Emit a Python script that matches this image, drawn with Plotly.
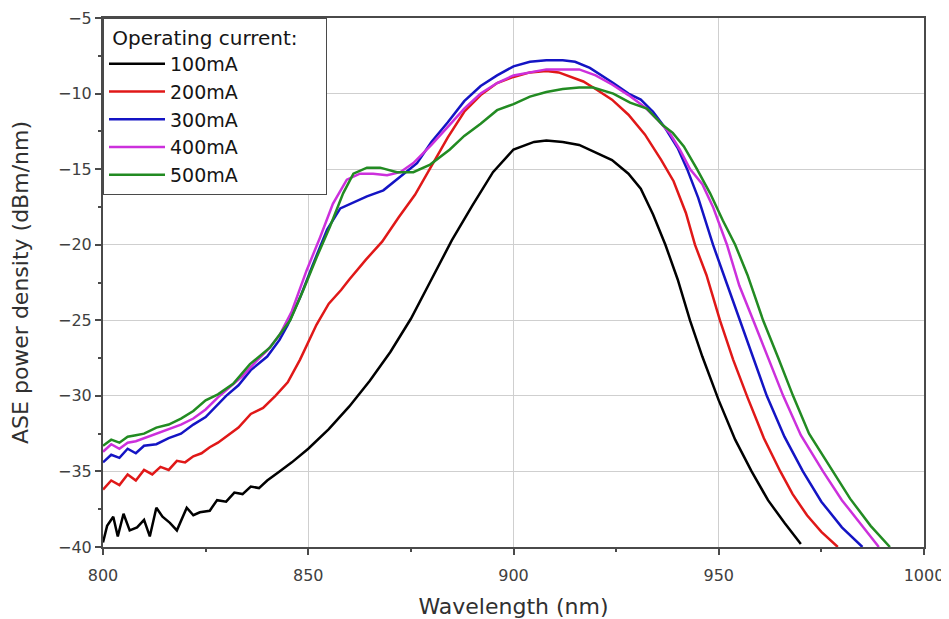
import plotly.graph_objects as go

# ---------------- data ----------------
labels = ["100mA", "200mA", "300mA", "400mA", "500mA"]
colors = ["#000000", "#e01818", "#1414c4", "#cc30dc", "#228b22"]

wl_100 = [800, 801, 802.5, 803.6, 805, 806.5, 808.3, 810, 811.4, 813, 814.5, 816.3, 818,
          820.4, 822, 823.6, 826, 827.8, 830, 832, 834, 836, 838, 840, 843, 846, 850, 855,
          860, 865, 870, 875, 880, 885, 890, 895, 900, 905, 908, 912, 916, 920, 924, 928,
          931, 934, 937, 940, 943, 946, 950, 954, 958, 962, 966, 970]
p_100 = [-39.7, -38.6, -38.0, -39.3, -37.8, -38.9, -38.7, -38.2, -39.3, -37.4, -38.0, -38.4,
         -38.9, -37.4, -37.9, -37.7, -37.6, -36.9, -37.0, -36.4, -36.5, -36.0, -36.1, -35.6,
         -35.0, -34.4, -33.5, -32.2, -30.7, -29.0, -27.1, -24.9, -22.3, -19.7, -17.4, -15.2,
         -13.7, -13.2, -13.1, -13.2, -13.4, -13.9, -14.4, -15.3, -16.3, -18.0, -20.0, -22.3,
         -25.0, -27.4, -30.3, -32.9, -35.0, -36.9, -38.4, -39.8]

wl_200 = [800, 802, 804, 806, 808, 810, 812, 814, 816, 818, 820, 822, 824, 826, 828, 830,
          833, 836, 839, 842, 845, 848, 850, 852, 855, 858, 860, 864, 868, 872, 876, 880,
          884, 888, 892, 896, 900, 904, 908, 911, 914, 917, 920, 924, 928, 932, 936, 939,
          942, 944.2, 947, 950.3, 953.5, 957, 961, 965, 968, 971.5, 975, 979]
p_200 = [-36.2, -35.6, -35.9, -35.2, -35.6, -34.9, -35.2, -34.7, -34.9, -34.3, -34.4, -34.0,
         -33.8, -33.4, -33.1, -32.7, -32.1, -31.2, -30.8, -30.0, -29.1, -27.6, -26.5, -25.3,
         -23.9, -23.0, -22.3, -21.0, -19.8, -18.2, -16.7, -14.8, -12.9, -11.2, -10.1, -9.3,
         -8.9, -8.6, -8.5, -8.6, -8.9, -9.2, -9.7, -10.4, -11.4, -12.7, -14.4, -15.8, -17.9,
         -20.0, -22.0, -25.0, -27.6, -30.1, -32.8, -35.0, -36.5, -37.9, -39.0, -40.0]

wl_300 = [800, 802, 804, 806, 808, 810, 813, 816, 819, 822, 825, 828, 830, 833, 836, 840,
          843, 845, 848, 851, 854.6, 857.8, 861, 864.3, 868.3, 872.4, 876.5, 880, 884, 888,
          892, 896, 900, 904, 908, 912, 915, 918.6, 921, 924.3, 928, 931, 934, 937, 940,
          942.3, 945, 948.6, 952, 955.2, 958.5, 961.7, 966, 970.5, 975, 980, 985]
p_300 = [-34.4, -33.9, -34.1, -33.5, -33.8, -33.3, -33.2, -32.8, -32.5, -31.9, -31.4, -30.6,
         -30.0, -29.3, -28.3, -27.4, -26.3, -25.3, -23.5, -21.4, -19.0, -17.6, -17.2, -16.8,
         -16.4, -15.5, -14.6, -13.2, -11.9, -10.5, -9.5, -8.8, -8.2, -7.9, -7.8, -7.8, -7.9,
         -8.3, -8.7, -9.3, -10.0, -10.4, -11.2, -12.3, -13.6, -15.0, -16.9, -20.0, -22.6,
         -25.0, -27.5, -30.0, -32.7, -35.0, -37.0, -38.7, -40.0]

wl_400 = [800, 802, 804, 806, 808, 810, 813, 816, 819, 822, 825, 828, 831, 834, 837, 840,
          843, 846, 849.6, 852.9, 856, 859.4, 862.6, 865.8, 869.2, 872.4, 875.6, 880, 884,
          888, 892, 896, 900, 904, 908, 912, 916, 920, 924, 928, 932, 935, 938, 940.5, 943,
          946, 948.6, 952, 955, 958.4, 962, 965.7, 970, 975.4, 980, 985, 989]
p_400 = [-33.7, -33.2, -33.5, -33.1, -33.0, -32.8, -32.5, -32.2, -31.9, -31.5, -30.9, -30.1,
         -29.4, -28.7, -27.8, -27.0, -26.0, -24.4, -21.7, -19.5, -17.3, -15.7, -15.3, -15.3,
         -15.4, -15.2, -14.6, -13.4, -12.2, -11.0, -10.0, -9.3, -8.8, -8.6, -8.4, -8.4, -8.4,
         -8.8, -9.4, -10.1, -10.9, -11.7, -12.6, -13.7, -15.0, -16.0, -17.5, -20.0, -22.7,
         -25.0, -27.5, -30.0, -32.6, -35.0, -36.9, -38.6, -40.0]

wl_500 = [800, 802, 804, 806, 808, 810, 813, 816, 819, 822, 825, 828, 831.7, 835.8, 840.7,
          845.6, 848.8, 852.1, 855.3, 858.5, 861, 864.3, 867.5, 871.6, 875.6, 879.7, 884.5,
          888, 892, 896, 900, 904, 908, 912, 916, 919.4, 924.3, 928.4, 932.5, 936.4, 938.8,
          941.5, 944.7, 947.9, 951, 954, 957, 960.8, 964.5, 968.1, 972, 977.8, 982, 987, 991.7]
p_500 = [-33.3, -32.9, -33.1, -32.7, -32.6, -32.5, -32.1, -31.9, -31.5, -31.0, -30.3, -29.9,
         -29.2, -27.9, -26.8, -25.0, -23.0, -20.8, -18.8, -16.6, -15.3, -14.9, -14.9, -15.2,
         -15.2, -14.7, -13.7, -12.8, -12.0, -11.1, -10.7, -10.2, -9.9, -9.7, -9.6, -9.6,
         -10.0, -10.6, -11.0, -12.1, -12.6, -13.5, -15.0, -16.6, -18.4, -20.0, -22.0, -25.0,
         -27.5, -30.0, -32.5, -35.0, -36.8, -38.6, -40.0]

x_ticks = [800, 850, 900, 950, 1000]
y_ticks = [-5, -10, -15, -20, -25, -30, -35, -40]

series_x = [wl_100, wl_200, wl_300, wl_400, wl_500]
series_y = [p_100, p_200, p_300, p_400, p_500]

# ---------------- figure ----------------
FONT = "DejaVu Sans, Liberation Sans, Arial, sans-serif"
fig = go.Figure()
for name, col, xs, ys in zip(labels, colors, series_x, series_y):
    fig.add_trace(go.Scatter(x=xs, y=ys, mode="lines", name=name,
                             line=dict(color=col, width=2.5)))

axis_common = dict(
    showline=True, linecolor="#4a4a4a", linewidth=2, mirror=True,
    ticks="outside", ticklen=6, tickwidth=1.5, tickcolor="#4a4a4a",
    showgrid=True, gridcolor="#cfcfcf", gridwidth=1, zeroline=False,
    tickfont=dict(family=FONT, size=16, color="#404040"),
    title_font=dict(family=FONT, size=22, color="#303030"),
    minor=dict(ticks="outside", ticklen=3, tickcolor="#4a4a4a", showgrid=False),
    automargin=False, ticklabeloverflow="allow",
)

fig.update_xaxes(range=[800, 1000], tickvals=x_ticks, title_text="Wavelength (nm)",
                 title_standoff=20, ticklabelstandoff=7, **axis_common)
fig.update_xaxes(minor_dtick=25, minor_tick0=800)
fig.update_yaxes(range=[-40, -5], tickvals=y_ticks, title_text="ASE power density (dBm/nm)",
                 title_standoff=24, **axis_common)
fig.update_yaxes(minor_dtick=2.5, minor_tick0=-40)

# the page body adds an 8 px offset, so the canvas is 8 px smaller and margins shifted
fig.update_layout(
    width=941, height=611,
    margin=dict(l=95, r=25, t=10, b=72),
    plot_bgcolor="white", paper_bgcolor="white",
    font=dict(family=FONT, color="#303030"),
    legend=dict(
        x=0, y=1, xanchor="left", yanchor="top",
        bgcolor="white", bordercolor="#4a4a4a", borderwidth=1,
        font=dict(family=FONT, size=19, color="#151515"),
        title=dict(text="&nbsp;Operating current:&nbsp;&nbsp;&nbsp;&nbsp;",
                   font=dict(family=FONT, size=20, color="#151515")),
        itemwidth=56, tracegroupgap=0,
    ),
)

fig.write_html("out.html")
